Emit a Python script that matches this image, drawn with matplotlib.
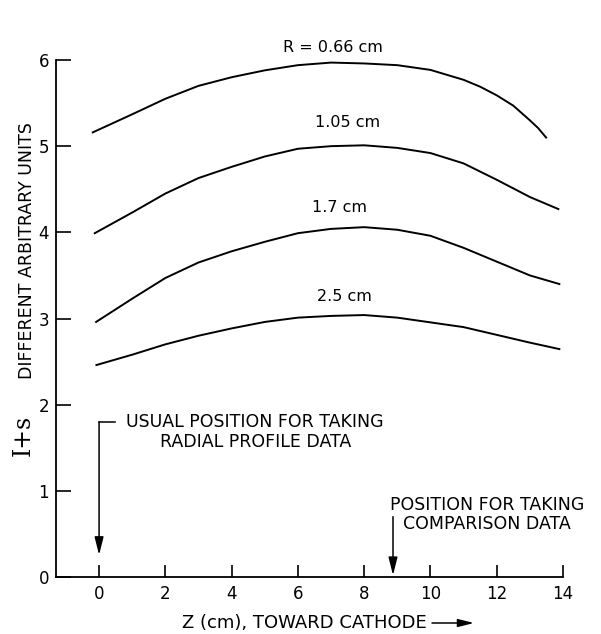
import matplotlib
matplotlib.use("Agg")
import matplotlib.pyplot as plt

# Axial profiles of I+s at four radii (Z in cm, intensity in arbitrary units)
z_066 = [-0.19, 1, 2, 3, 4, 5, 6, 7, 8, 9, 10, 11, 11.5, 12, 12.5, 13, 13.25, 13.49]
i_066 = [5.16, 5.37, 5.55, 5.70, 5.80, 5.88, 5.94, 5.97, 5.96, 5.94, 5.885, 5.77, 5.69, 5.59, 5.47, 5.30, 5.21, 5.10]

z_105 = [-0.13, 1, 2, 3, 4, 5, 6, 7, 8, 9, 10, 11, 12, 13, 13.86]
i_105 = [3.99, 4.23, 4.45, 4.63, 4.76, 4.88, 4.97, 5.00, 5.01, 4.98, 4.92, 4.80, 4.61, 4.41, 4.27]

z_17 = [-0.09, 1, 2, 3, 4, 5, 6, 7, 8, 9, 10, 11, 12, 13, 13.89]
i_17 = [2.96, 3.23, 3.47, 3.65, 3.78, 3.89, 3.99, 4.04, 4.06, 4.03, 3.96, 3.82, 3.66, 3.50, 3.40]

z_25 = [-0.08, 1, 2, 3, 4, 5, 6, 7, 8, 9, 10, 11, 12, 13, 13.89]
i_25 = [2.46, 2.58, 2.70, 2.80, 2.885, 2.96, 3.01, 3.03, 3.04, 3.01, 2.955, 2.90, 2.81, 2.72, 2.645]

curves = [(z_066, i_066), (z_105, i_105), (z_17, i_17), (z_25, i_25)]
curve_labels = ["R = 0.66 cm", "1.05 cm", "1.7 cm", "2.5 cm"]
label_pos = [(7.06, 6.14), (7.5, 5.27), (7.27, 4.29), (7.4, 3.25)]

x_ticks = [0, 2, 4, 6, 8, 10, 12, 14]
y_ticks = [0, 1, 2, 3, 4, 5, 6]

usual_z = 0.0
comparison_z = 8.87

plt.rcParams['font.family'] = ['DejaVu Sans']

W, H = 601, 634
fig = plt.figure(figsize=(W / 100, H / 100), dpi=100)
ax = fig.add_axes([56 / W, (H - 577) / H, (563 - 56) / W, (577 - 60) / H])

for z, i in curves:
    ax.plot(z, i, color='black', lw=1.4, solid_joinstyle='round')

for text, (x, y) in zip(curve_labels, label_pos):
    ax.text(x, y, text, ha='center', va='center', fontsize=11.5)

ax.set_xlim(-1.3, 14)
ax.set_ylim(0, 6)
for side in ('top', 'right'):
    ax.spines[side].set_visible(False)
for side in ('left', 'bottom'):
    ax.spines[side].set_linewidth(1.3)

ax.set_xticks(x_ticks)
ax.set_yticks(y_ticks)
ax.tick_params(axis='x', direction='in', length=8.5, width=1.2, pad=6, labelsize=12)
ax.tick_params(axis='y', direction='in', length=10.5, width=1.2, pad=5, labelsize=12)

arrow_style = dict(arrowstyle='-|>,head_length=0.6,head_width=0.15',
                   mutation_scale=18, lw=1.1, color='black', shrinkA=0, shrinkB=0)

# marker for the usual radial profile position
ax.plot([usual_z + 0.48, usual_z], [1.80, 1.80], color='black', lw=1.1)
ax.annotate('', xy=(usual_z, 0.255), xytext=(usual_z, 1.80), arrowprops=arrow_style)
ax.text(4.71, 1.80, "USUAL POSITION FOR TAKING", ha='center', va='center', fontsize=12.5)
ax.text(4.71, 1.57, "RADIAL PROFILE DATA", ha='center', va='center', fontsize=12.5)

# marker for the comparison position
ax.annotate('', xy=(comparison_z, 0.02), xytext=(comparison_z, 0.70), arrowprops=arrow_style)
ax.text(11.7, 0.835, "POSITION FOR TAKING", ha='center', va='center', fontsize=12.5)
ax.text(11.7, 0.615, "COMPARISON DATA", ha='center', va='center', fontsize=12.5)

# axis titles
fig.text(304 / W, 1 - 623 / H, "Z (cm), TOWARD CATHODE", ha='center', va='center', fontsize=13)
ax.annotate('', xy=(474 / W, 1 - 623 / H), xytext=(432 / W, 1 - 623 / H),
            xycoords='figure fraction', textcoords='figure fraction',
            arrowprops=dict(arrow_style, mutation_scale=16), annotation_clip=False)

fig.text(23 / W, 1 - 435 / H, "I+s", rotation=90, ha='center', va='center',
         fontsize=17, family=['DejaVu Serif'])
fig.text(27 / W, 1 - 251 / H, "DIFFERENT ARBITRARY UNITS", rotation=90,
         ha='center', va='center', fontsize=12.5)

fig.savefig("out.png", dpi=100)
